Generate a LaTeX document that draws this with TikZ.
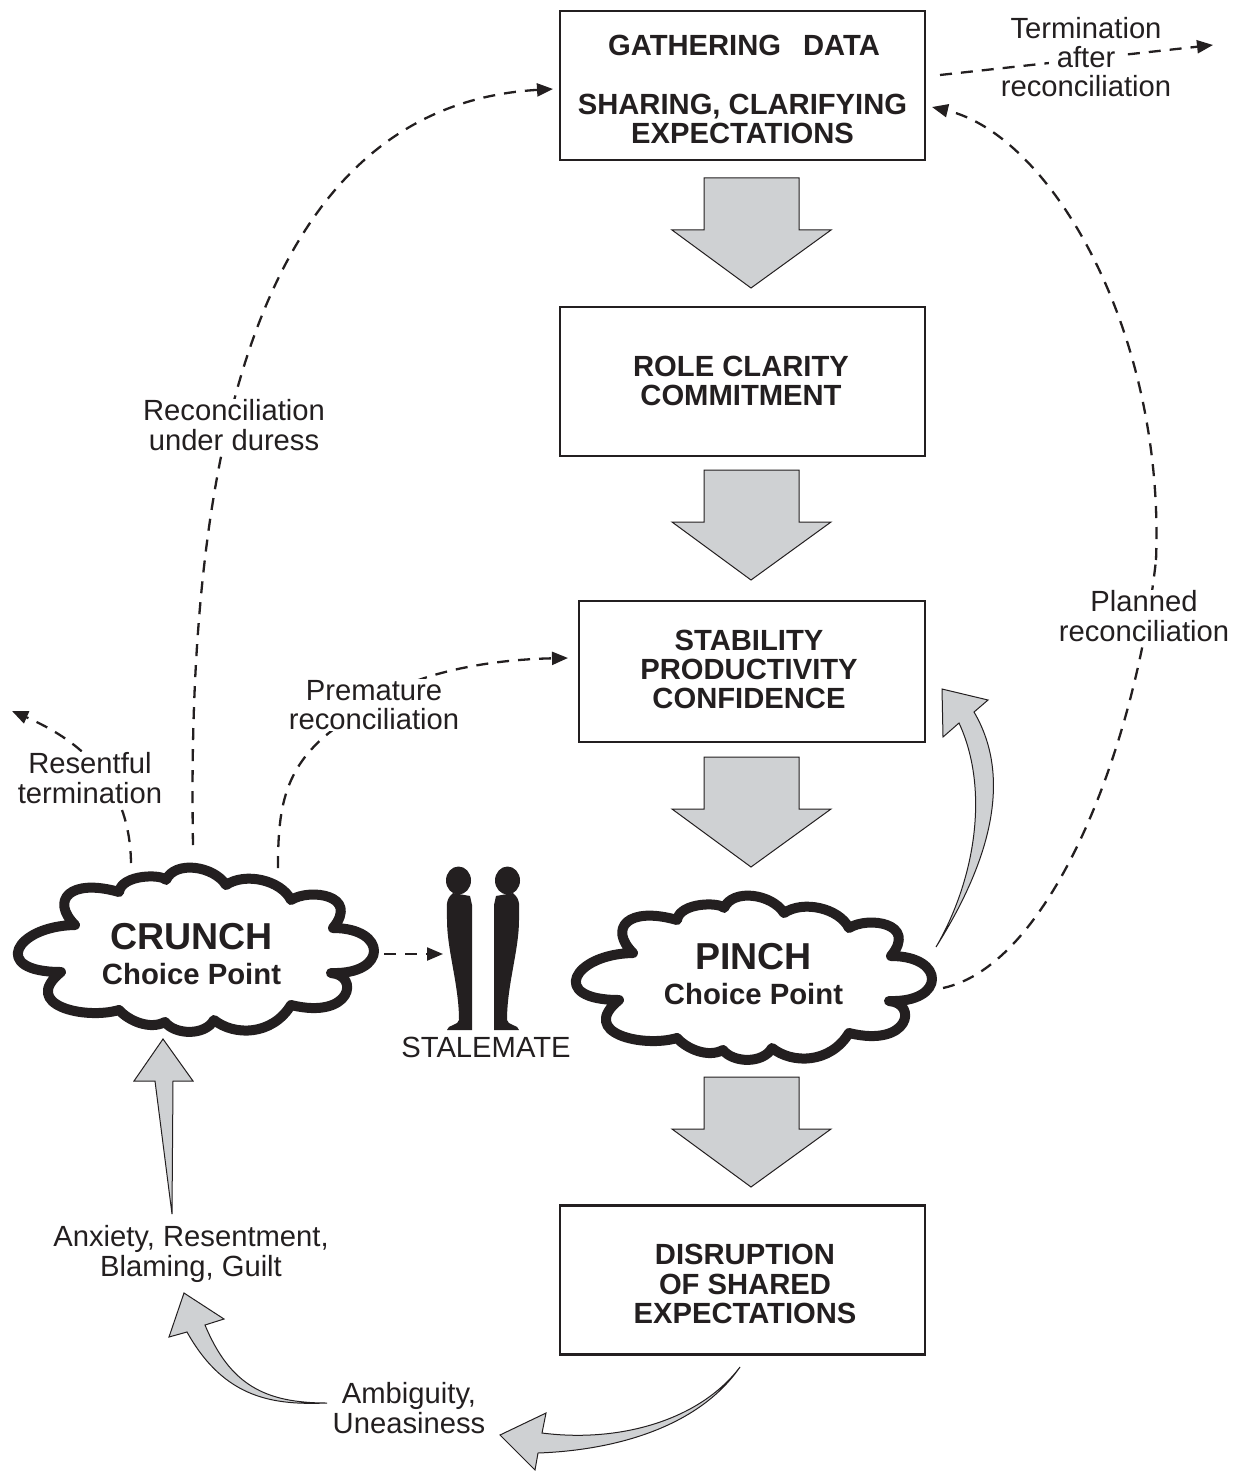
\documentclass[tikz,border=0pt]{standalone}
\usepackage{fontspec}
\setmainfont{Liberation Sans}
\usetikzlibrary{arrows.meta}
\definecolor{arrowgray}{HTML}{CFD1D3}
\definecolor{inkblack}{HTML}{231F20}
\tikzset{
  box/.style={draw=inkblack, line width=2.4pt, minimum width=365pt, minimum height=149pt, inner sep=0pt},
  boxtxt/.style={inner sep=0pt, align=center, text=inkblack, font=\fontsize{29.2}{29.3}\selectfont\bfseries},
  txt/.style={inner sep=1pt, align=center, text=inkblack, font=\fontsize{29.2}{29.3}\selectfont},
  txtfill/.style={txt, fill=white},
  cloudtxt/.style={inner sep=0pt, align=center, text=inkblack, font=\fontsize{29.3}{35}\selectfont\bfseries},
  dashline/.style={draw=inkblack, line width=2.3pt, dash pattern=on 12pt off 9pt, -{Triangle[length=16pt,width=13pt]}},
  dashplain/.style={draw=inkblack, line width=2.3pt, dash pattern=on 12pt off 9pt},
  grayarrow/.style={draw=inkblack, fill=arrowgray, line width=1pt, line join=miter},
  pics/downarrow/.style={code={
    \draw[grayarrow] (-47,0) -- (48,0) -- (48,52) -- (80,52) -- (0,110) -- (-79,52) -- (-47,52) -- cycle;
  }},
  pics/choicecloud/.style={code={
    \draw[draw=inkblack, fill=white, line width=10pt, line join=round]
      (75,925) .. controls (50,900) and (70,878) .. (119,892)
      .. controls (122,874) and (162,874) .. (166,880)
      .. controls (175,860) and (214,866) .. (226,885)
      .. controls (245,872) and (281,880) .. (291,900)
      .. controls (310,888) and (360,895) .. (333,928)
      .. controls (388,928) and (388,975) .. (331,973)
      .. controls (360,975) and (352,1020) .. (291,1005)
      .. controls (272,1036) and (234,1036) .. (214,1020)
      .. controls (205,1036) and (175,1035) .. (165,1022)
      .. controls (150,1030) and (129,1021) .. (119,1010)
      .. controls (85,1020) and (20,1005) .. (61,972)
      .. controls (-10,972) and (15,926) .. (75,925) -- cycle;
  }},
  pics/standing/.style={code={
    \fill[inkblack] (-6,893) .. controls (-14,900) and (-12,905) .. (-12,920) .. controls (-12,950) and (0,985) .. (0,1020) .. controls (0,1025) and (-12,1025) .. (-12,1030) -- (13,1030) -- (13,905) -- (11,896) -- cycle;
    \fill[inkblack] (-0.5,880.5) ellipse (12.5 and 14);
  }},
}
\begin{document}
\begin{tikzpicture}[x=1pt, y=-1pt]
\useasboundingbox (0,0) rectangle (1245,1471);
\node[box] (B1) at (742.5,85.5) {};
\node[box] (B2) at (742.5,381.5) {};
\node[box, minimum width=346pt, minimum height=141pt] (B3) at (752,671.5) {};
\node[box] (B4) at (742.5,1280) {};
\node[boxtxt] (T1) at (742.5,89.5) {\hspace*{3pt}GATHERING\hspace{22pt}DATA\\[29.3pt]SHARING, CLARIFYING\\EXPECTATIONS};
\node[boxtxt] (T2) at (741,381) {ROLE CLARITY\\COMMITMENT};
\node[boxtxt] (T3) at (749,669.5) {STABILITY\\PRODUCTIVITY\\CONFIDENCE};
\node[boxtxt] (T4) at (745,1284) {DISRUPTION\\OF SHARED\\EXPECTATIONS};
\pic at (751,178) {downarrow};
\pic at (751,470) {downarrow};
\pic at (751,757) {downarrow};
\pic at (751,1077) {downarrow};
\pic at (0,0) {choicecloud};
\pic at (558,28) {choicecloud};
\pic at (459,0) {standing};
\pic[xscale=-1] at (507,0) {standing};
\node[cloudtxt] (C1) at (191.5,954) {{\fontsize{37.5}{35}\selectfont CRUNCH}\\Choice Point};
\node[cloudtxt] (C2) at (753.5,974) {{\fontsize{37.5}{35}\selectfont PINCH}\\Choice Point};
\node[txt] (S1) at (486,1047) {STALEMATE};
\coordinate (D1a) at (193,845);
\coordinate (D1b) at (553,89);
\coordinate (D2a) at (278,868);
\coordinate (D2m) at (360,712);
\coordinate (D2b) at (568,658);
\coordinate (D3a) at (131,863);
\coordinate (D3b) at (12,711);
\coordinate (D4a) at (384,954);
\coordinate (D4b) at (443,954);
\coordinate (D5a) at (940,75);
\coordinate (D5b) at (1213,45);
\coordinate (D6a) at (943,988);
\coordinate (D6m) at (1156,560);
\coordinate (D6b) at (932,107);
\draw[dashline] (D1a) .. controls (188,560) and (218,108) .. (D1b);
\draw[dashline] (D2a) .. controls (278,800) and (285,755) .. (D2m) .. controls (395,680) and (470,660) .. (D2b);
\draw[dashline] (D3a) .. controls (130,790) and (90,745) .. (D3b);
\draw[dashline] (D4a) -- (D4b);
\draw[dashline] (D5a) -- (D5b);
\draw[dashplain] (D6a) .. controls (1050,965) and (1135,750) .. (D6m);
\draw[dashline] (D6m) .. controls (1165,330) and (1050,135) .. (D6b);
\node[txtfill] (L1) at (234,425) {Reconciliation\\under duress};
\node[txtfill] (L2) at (374,705) {Premature\\reconciliation};
\node[txtfill] (L3) at (90,778) {Resentful\\termination};
\node[txt] (L4) at (1086,57) {Termination\\\colorbox{white}{\,after\,}\\reconciliation};
\node[txtfill] (L5) at (1144,616) {Planned\\reconciliation};
\node[txt] (L6) at (191,1254) {Anxiety, Resentment,\\Blaming, Guilt};
\node[txt] (L7) at (409,1408) {Ambiguity,\\Uneasiness};
\draw[grayarrow] (936,947) .. controls (975,885) and (1020,790) .. (974,712) -- (988,700) -- (942,689) -- (943,737) -- (959,723) .. controls (990,790) and (975,880) .. (936,947) -- cycle;
\draw[grayarrow] (172,1214) -- (173,1081) -- (193,1081) -- (163,1039) -- (134,1081) -- (155,1081) -- cycle;
\draw[grayarrow] (327,1403) .. controls (275,1405) and (225,1400) .. (187,1332) -- (169,1337) -- (184,1293) -- (224,1319) -- (205,1325) .. controls (230,1385) and (265,1403) .. (327,1403) -- cycle;
\draw[grayarrow] (740,1367) .. controls (700,1425) and (620,1450) .. (538,1453) -- (535,1470) -- (500,1435) -- (546,1413) -- (542,1433) .. controls (620,1443) and (700,1420) .. (740,1367) -- cycle;
\end{tikzpicture}
\end{document}
